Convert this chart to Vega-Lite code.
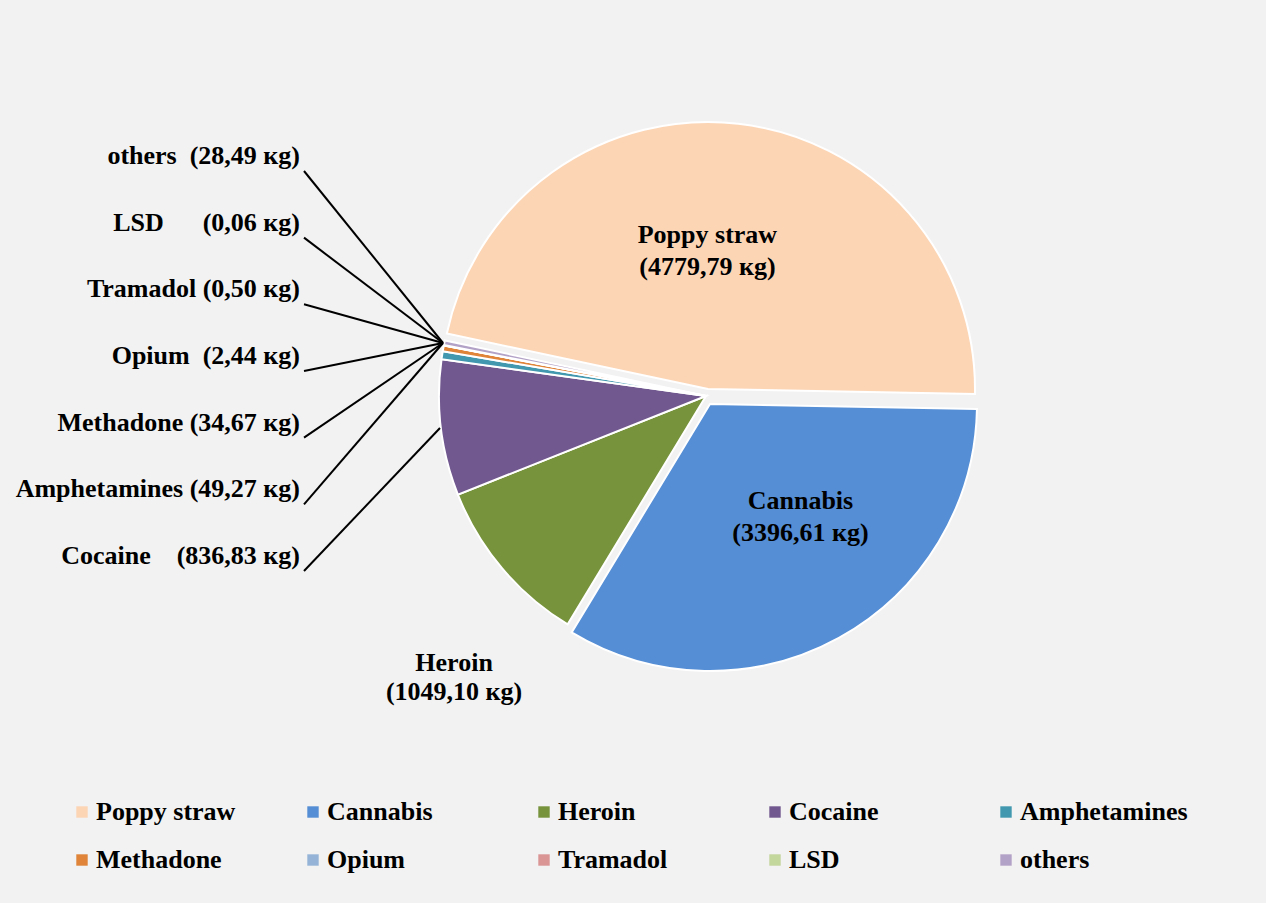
{
  "$schema": "https://vega.github.io/schema/vega-lite/v6.json",
  "autosize": "none",
  "width": 1120,
  "height": 792,
  "padding": {"left": 146, "top": 0, "right": 0, "bottom": 111},
  "background": "#f2f2f2",
  "config": {
    "view": {"stroke": null},
    "font": "Liberation Serif",
    "legend": {
      "orient": "none",
      "legendX": -77,
      "legendY": 799,
      "direction": "horizontal",
      "columns": 5,
      "gridAlign": "all",
      "columnPadding": 36,
      "rowPadding": 22,
      "symbolType": "square",
      "symbolSize": 130,
      "symbolStrokeWidth": 0,
      "labelFont": "Liberation Serif",
      "labelFontSize": 26,
      "labelFontWeight": "bold",
      "labelColor": "black",
      "labelOffset": 1,
      "labelLimit": 400,
      "padding": 0
    }
  },
  "data": {
    "values": [
      {"rank": 1, "Drug": "Poppy straw", "kg": 4779.79, "label": "Poppy straw\n(4779,79 кg)"},
      {"rank": 2, "Drug": "Cannabis", "kg": 3396.61, "label": "Cannabis\n(3396,61 кg)"},
      {"rank": 3, "Drug": "Heroin", "kg": 1049.10, "label": "Heroin\n(1049,10 кg)"},
      {"rank": 4, "Drug": "Cocaine", "kg": 836.83, "label": "Cocaine\u00a0\u00a0\u00a0\u00a0(836,83 кg)"},
      {"rank": 5, "Drug": "Amphetamines", "kg": 49.27, "label": "Amphetamines (49,27 кg)"},
      {"rank": 6, "Drug": "Methadone", "kg": 34.67, "label": "Methadone (34,67 кg)"},
      {"rank": 7, "Drug": "Opium", "kg": 2.44, "label": "Opium\u00a0\u00a0(2,44 кg)"},
      {"rank": 8, "Drug": "Tramadol", "kg": 0.50, "label": "Tramadol (0,50 кg)"},
      {"rank": 9, "Drug": "LSD", "kg": 0.06, "label": "LSD\u00a0\u00a0\u00a0\u00a0\u00a0\u00a0(0,06 кg)"},
      {"rank": 10, "Drug": "others", "kg": 28.49, "label": "others\u00a0\u00a0(28,49 кg)"}
    ]
  },
  "transform": [
    {"stack": "kg", "groupby": [], "sort": [{"field": "rank", "order": "ascending"}], "as": ["t0", "t1"]}
  ],
  "layer": [
    {
      "transform": [{"filter": "datum.rank >= 3"}],
      "mark": {"type": "arc", "outerRadius": 267, "stroke": "white", "strokeWidth": 2},
      "encoding": {
        "theta": {"field": "t0", "type": "quantitative", "scale": {"range": [4.9218, 11.205], "nice": false, "zero": true}},
        "theta2": {"field": "t1"},
        "color": {
          "field": "Drug", "type": "nominal",
          "scale": {
            "domain": ["Poppy straw", "Cannabis", "Heroin", "Cocaine", "Amphetamines", "Methadone", "Opium", "Tramadol", "LSD", "others"],
            "range": ["#FCD5B5", "#558ED5", "#77933C", "#71588F", "#4198AF", "#E0843A", "#95B3D7", "#D99694", "#C3D69B", "#B3A2C7"]
          },
          "legend": {"title": null}
        }
      }
    },
    {
      "transform": [{"filter": "datum.rank == 1"}],
      "mark": {"type": "arc", "outerRadius": 267, "stroke": "white", "strokeWidth": 2, "xOffset": 2, "yOffset": -7},
      "encoding": {
        "theta": {"field": "t0", "type": "quantitative"},
        "theta2": {"field": "t1"},
        "color": {"field": "Drug", "type": "nominal"}
      }
    },
    {
      "transform": [{"filter": "datum.rank == 2"}],
      "mark": {"type": "arc", "outerRadius": 267, "stroke": "white", "strokeWidth": 2, "xOffset": 4, "yOffset": 8},
      "encoding": {
        "theta": {"field": "t0", "type": "quantitative"},
        "theta2": {"field": "t1"},
        "color": {"field": "Drug", "type": "nominal"}
      }
    },
    {
      "mark": {"type": "text", "font": "Liberation Serif", "fontSize": 26, "fontWeight": "bold", "color": "black", "lineBreak": "\n", "lineHeight": 32, "align": "center", "baseline": "middle", "dx": -17},
      "encoding": {
        "theta": {"field": "kg", "type": "quantitative", "stack": true},
        "order": {"field": "rank", "type": "quantitative", "sort": "ascending"},
        "radius": {"value": 162},
        "text": {"condition": {"test": "datum.rank == 1", "field": "label"}, "value": ""}
      }
    },
    {
      "mark": {"type": "text", "font": "Liberation Serif", "fontSize": 26, "fontWeight": "bold", "color": "black", "lineBreak": "\n", "lineHeight": 32, "align": "center", "baseline": "middle", "dx": 23, "dy": -25},
      "encoding": {
        "theta": {"field": "kg", "type": "quantitative", "stack": true},
        "order": {"field": "rank", "type": "quantitative", "sort": "ascending"},
        "radius": {"value": 148},
        "text": {"condition": {"test": "datum.rank == 2", "field": "label"}, "value": ""}
      }
    },
    {
      "mark": {"type": "text", "font": "Liberation Serif", "fontSize": 26, "fontWeight": "bold", "color": "black", "lineBreak": "\n", "lineHeight": 29, "align": "center", "baseline": "middle", "dy": 54},
      "encoding": {
        "theta": {"field": "kg", "type": "quantitative", "stack": true},
        "order": {"field": "rank", "type": "quantitative", "sort": "ascending"},
        "radius": {"value": 330},
        "text": {"condition": {"test": "datum.rank == 3", "field": "label"}, "value": ""}
      }
    },
    {
      "transform": [{"filter": "datum.rank >= 4"}],
      "mark": {"type": "text", "font": "Liberation Serif", "fontSize": 26, "fontWeight": "bold", "color": "black", "align": "right", "baseline": "middle"},
      "encoding": {
        "x": {"value": 154},
        "y": {"field": "Drug", "type": "nominal", "axis": null,
              "scale": {"type": "point", "domain": ["others", "LSD", "Tramadol", "Opium", "Methadone", "Amphetamines", "Cocaine"], "range": [156, 556], "padding": 0}},
        "text": {"field": "label"}
      }
    },
    {
      "transform": [{"filter": "datum.rank >= 5"}],
      "mark": {"type": "rule", "color": "black", "strokeWidth": 2, "yOffset": 15},
      "encoding": {
        "x": {"value": 158},
        "y": {"field": "Drug", "type": "nominal", "axis": null},
        "x2": {"value": 297},
        "y2": {"value": 343}
      }
    },
    {
      "transform": [{"filter": "datum.rank == 4"}],
      "mark": {"type": "rule", "color": "black", "strokeWidth": 2, "yOffset": 15},
      "encoding": {
        "x": {"value": 158},
        "y": {"field": "Drug", "type": "nominal", "axis": null},
        "x2": {"value": 294},
        "y2": {"value": 428}
      }
    }
  ]
}
